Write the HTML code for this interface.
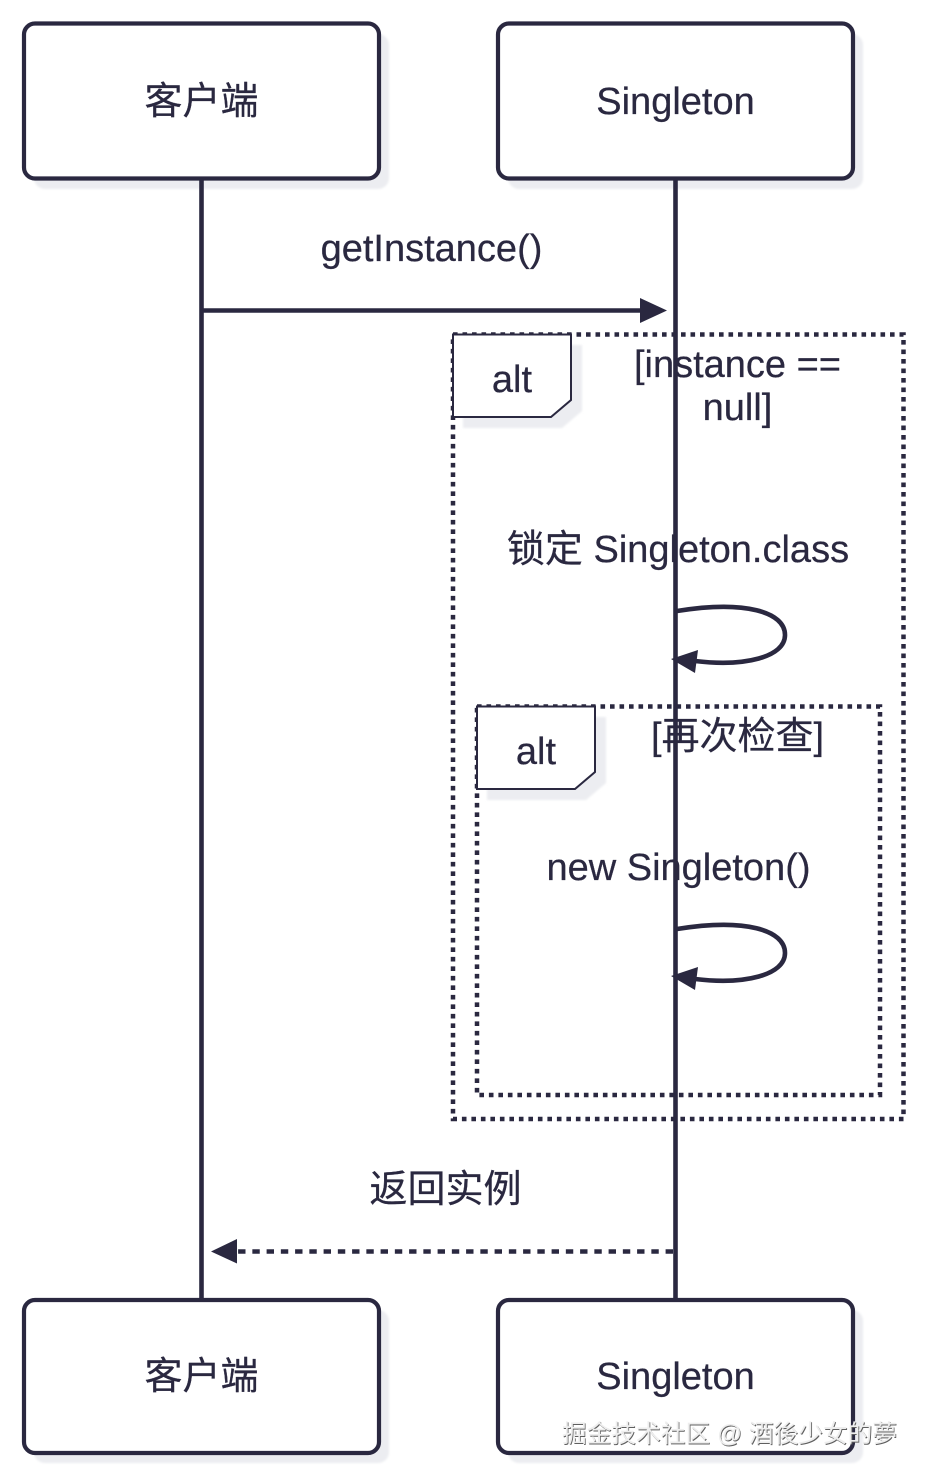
<!DOCTYPE html>
<html>
<head>
<meta charset="utf-8">
<style>
html,body{margin:0;padding:0;background:#fff;}
svg{display:block;}
text{font-family:"Liberation Sans","Noto Sans CJK SC",sans-serif;font-size:38px;fill:#2a2840;stroke:#2a2840;stroke-width:.25;text-anchor:middle;}
text.wm{font-size:24.7px;text-anchor:start;stroke:none;}
</style>
</head>
<body>
<svg width="927" height="1477" viewBox="0 0 927 1477" xmlns="http://www.w3.org/2000/svg">
<defs><filter id="b" x="-5%" y="-5%" width="110%" height="110%"><feGaussianBlur stdDeviation="1"/></filter></defs>
<rect width="927" height="1477" fill="#fff"/>

<!-- shadows -->
<g fill="#ecedf1" filter="url(#b)">
<rect x="34" y="34" width="355" height="155" rx="11"/>
<rect x="508" y="34" width="355" height="155" rx="11"/>
<rect x="34" y="1310" width="355" height="153" rx="11"/>
<rect x="508" y="1310" width="355" height="153" rx="11"/>
<polygon points="463,345 582,345 582,411 562,428 463,428"/>
<polygon points="487,717 606,717 606,783 586,800 487,800"/>
</g>

<!-- actor boxes -->
<g fill="#fff" stroke="#2a2840" stroke-width="4.2">
<rect x="24" y="23.5" width="355" height="155" rx="11"/>
<rect x="498" y="23.5" width="355" height="155" rx="11"/>
<rect x="24" y="1300" width="355" height="153" rx="11"/>
<rect x="498" y="1300" width="355" height="153" rx="11"/>
</g>
<text x="201.5" y="114">客户端</text>
<text x="675.5" y="114">Singleton</text>
<text x="201.5" y="1389">客户端</text>
<text x="675.5" y="1389">Singleton</text>

<!-- loop frames -->
<g fill="none" stroke="#2a2840" stroke-width="4.5" stroke-dasharray="4.6 4.9">
<rect x="453" y="334.5" width="450.5" height="784.5"/>
<rect x="477" y="706.5" width="403" height="388.5"/>
</g>
<polygon points="453,334.5 571,334.5 571,400 551,417 453,417" fill="#fff" stroke="#2a2840" stroke-width="2"/>
<polygon points="477,706.5 595,706.5 595,772 575,789 477,789" fill="#fff" stroke="#2a2840" stroke-width="2"/>
<text x="512" y="392">alt</text>
<text x="536" y="764">alt</text>

<!-- labels -->
<text x="431.5" y="261">getInstance()</text>
<text x="737.5" y="377">[instance ==</text>
<text x="737.5" y="420">null]</text>
<text x="678" y="562">锁定 Singleton.class</text>
<text x="737.5" y="749">[再次检查]</text>
<text x="678.5" y="880">new Singleton()</text>
<text x="445.5" y="1202">返回实例</text>

<!-- lifelines -->
<line x1="201.5" y1="180" x2="201.5" y2="1299" stroke="#2a2840" stroke-width="4.6"/>
<line x1="675.5" y1="180" x2="675.5" y2="1299" stroke="#2a2840" stroke-width="4.6"/>

<!-- messages -->
<line x1="203" y1="310.5" x2="642" y2="310.5" stroke="#2a2840" stroke-width="4.4"/>
<polygon points="640,298 667,310.5 640,323" fill="#2a2840"/>

<g fill="none" stroke="#2a2840" stroke-width="4.6">
<path d="M677 611 C 745 600, 785 612, 785 635 C 785 657, 745 667, 695 661"/>
<path d="M677 929 C 745 918, 785 930, 785 953 C 785 975, 745 985, 695 979"/>
</g>
<polygon points="671,659 698,650 695,673" fill="#2a2840"/>
<polygon points="671,976 698,967 695,990" fill="#2a2840"/>

<line x1="673" y1="1251.5" x2="238" y2="1251.5" stroke="#2a2840" stroke-width="4.6" stroke-dasharray="7.4 6.85"/>
<polygon points="211,1251.5 237,1239 237,1263.5" fill="#2a2840"/>

<!-- watermark -->
<text class="wm" x="562.8" y="1442.8" style="fill:#5f5f5f">掘金技术社区 @ 酒後少女的夢</text>
<text class="wm" x="562" y="1442" style="fill:#eeeeee">掘金技术社区 @ 酒後少女的夢</text>
</svg>
</body>
</html>
